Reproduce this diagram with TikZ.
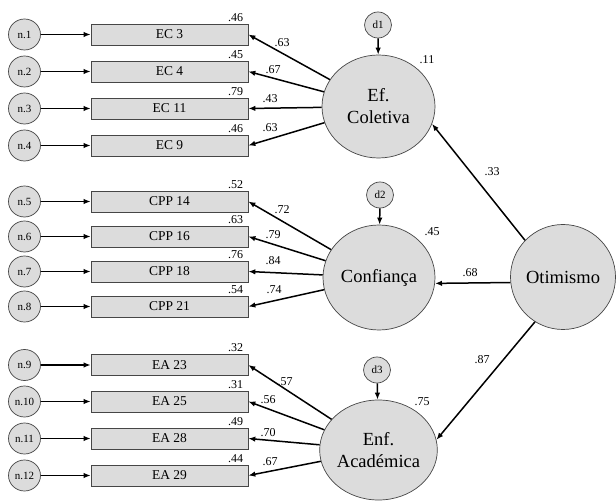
\documentclass[tikz,border=0pt]{standalone}
\usepackage{fontspec}
\setmainfont{Liberation Serif}
\usetikzlibrary{shapes.geometric,arrows.meta}
\definecolor{fillg}{RGB}{220,220,220}
\definecolor{edgeg}{RGB}{70,70,70}
\begin{document}
\begin{tikzpicture}[x=1pt,y=-1pt,
  errc/.style={ellipse,draw=edgeg,fill=fillg,line width=0.7pt,minimum width=32pt,minimum height=31pt,inner sep=0pt,font=\fontsize{11}{12}\selectfont},
  dist/.style={errc,minimum width=27pt,minimum height=26pt},
  item/.style={rectangle,draw=edgeg,fill=fillg,line width=0.7pt,minimum width=157pt,minimum height=21pt,inner sep=0pt,font=\fontsize{13.5}{15}\selectfont},
  lat/.style={ellipse,draw=edgeg,fill=fillg,line width=0.7pt,minimum width=113pt,minimum height=103pt,inner sep=0pt,align=center,font=\fontsize{18.5}{22}\selectfont},
  num/.style={inner sep=0pt,font=\fontsize{12}{13}\selectfont},
  arr/.style={-{Latex[length=7pt,width=5.5pt]},line width=1.5pt},
]
\useasboundingbox (0,0) rectangle (616,502);

% latent variables
\node[lat] (ef) at (378.5,106.5) {Ef.\\Coletiva};
\node[lat,minimum width=112pt,minimum height=105pt] (conf) at (379,277.5) {Confiança};
\node[lat,minimum height=100pt] (enf) at (378.5,450) {Enf.\\Académica};
\node[lat,minimum width=105pt,minimum height=105pt] (oti) at (563,277) {Otimismo};

% disturbances
\node[dist] (d1) at (378,25) {d1};
\node[dist] (d2) at (380,195) {d2};
\node[dist] (d3) at (377,370) {d3};
\draw[arr] (d1) -- (ef);
\draw[arr] (d2) -- (conf);
\draw[arr] (d3) -- (enf);

% indicators
\foreach \i/\y/\t/\e in {1/34.5/EC 3/.46, 2/71.5/EC 4/.45, 3/108.5/EC 11/.79, 4/145.5/EC 9/.46,
  5/201.5/CPP 14/.52, 6/236.5/CPP 16/.63, 7/271.5/CPP 18/.76, 8/306.5/CPP 21/.54,
  9/365/EA 23/.32, 10/401.5/EA 25/.31, 11/438.5/EA 28/.49, 12/475.5/EA 29/.44}{
  \node[item] (r\i) at (169.5,\y) {\t};
  \node[errc] (n\i) at (24.5,\y) {n.\i};
  \node[num,anchor=south east] (e\i) at ([xshift=-5pt,yshift=2pt]r\i.north east) {\e};
  \draw[arr] (n\i) -- (r\i);
}

% loadings
\foreach \i in {1,...,4}{\draw[arr] (ef) -- (r\i.east);}
\foreach \i in {5,...,8}{\draw[arr] (conf) -- (r\i.east);}
\foreach \i in {9,...,12}{\draw[arr] (enf) -- (r\i.east);}

\foreach \i/\x/\y/\v in {1/282/43/.63, 2/273/70/.67, 3/270/99/.43, 4/270/128/.63,
  5/282/210/.72, 6/273/235/.79, 7/273/261/.84, 8/274/290/.74,
  9/285/382/.57, 10/268/400/.56, 11/268/433/.70, 12/270/462/.67}{
  \node[num] (l\i) at (\x,\y) {\v};
}

% R squared
\node[num] (rs1) at (427,60) {.11};
\node[num] (rs2) at (432,232) {.45};
\node[num] (rs3) at (422,402) {.75};

% structural paths
\draw[arr] (oti.136) -- (ef.-18);
\draw[arr] (oti.186) -- (conf.-6);
\draw[arr] (oti.-122) -- (enf.10);
\node[num] (p1) at (492,172) {.33};
\node[num] (p2) at (470,273) {.68};
\node[num] (p3) at (482,360) {.87};
\end{tikzpicture}
\end{document}
